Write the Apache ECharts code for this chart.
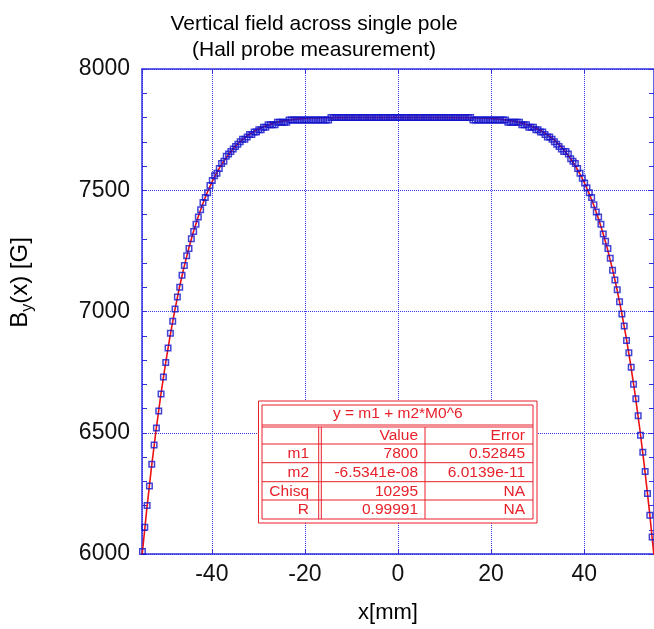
<!DOCTYPE html>
<html>
<head>
<meta charset="utf-8">
<script src="https://cdn.jsdelivr.net/npm/echarts@6/dist/echarts.min.js"></script>
<style>html,body{margin:0;padding:0;background:#fff;}#chart{width:654px;height:629px;}</style>
</head>
<body>
<div id="chart"></div>
<script>
// Hall probe measured points [x mm, B G]
const hallData = [
[-54.9,6010],[-54.4,6110],[-53.9,6200],[-53.4,6280],[-52.9,6370],[-52.4,6450],[-51.9,6520],[-51.4,6590],[-50.9,6660],[-50.4,6730],
[-49.9,6790],[-49.4,6850],[-48.9,6910],[-48.4,6960],[-47.9,7010],[-47.4,7060],[-46.9,7100],[-46.4,7150],[-45.9,7190],[-45.4,7230],
[-44.9,7260],[-44.4,7300],[-43.9,7330],[-43.4,7360],[-42.9,7390],[-42.4,7420],[-41.9,7450],[-41.4,7470],[-40.9,7490],[-40.4,7520],
[-39.9,7540],[-39.4,7560],[-38.9,7570],[-38.4,7590],[-37.9,7610],[-37.4,7620],[-36.9,7640],[-36.4,7650],[-35.9,7660],[-35.4,7670],
[-34.9,7680],[-34.4,7690],[-33.9,7700],[-33.4,7710],[-32.9,7710],[-32.4,7720],[-31.9,7730],[-31.4,7730],[-30.9,7740],[-30.4,7740],
[-29.9,7750],[-29.4,7750],[-28.9,7760],[-28.4,7760],[-27.9,7770],[-27.4,7770],[-26.9,7770],[-26.4,7770],[-25.9,7780],[-25.4,7780],
[-24.9,7780],[-24.4,7780],[-23.9,7780],[-23.4,7790],[-22.9,7790],[-22.4,7790],[-21.9,7790],[-21.4,7790],[-20.9,7790],[-20.4,7790],
[-19.9,7790],[-19.4,7790],[-18.9,7790],[-18.4,7790],[-17.9,7790],[-17.4,7790],[-16.9,7790],[-16.4,7790],[-15.9,7790],[-15.4,7790],
[-14.9,7790],[-14.4,7800],[-13.9,7800],[-13.4,7800],[-12.9,7800],[-12.4,7800],[-11.9,7800],[-11.4,7800],[-10.9,7800],[-10.4,7800],
[-9.9,7800],[-9.4,7800],[-8.9,7800],[-8.4,7800],[-7.9,7800],[-7.4,7800],[-6.9,7800],[-6.4,7800],[-5.9,7800],[-5.4,7800],
[-4.9,7800],[-4.4,7800],[-3.9,7800],[-3.4,7800],[-2.9,7800],[-2.4,7800],[-1.9,7800],[-1.4,7800],[-0.9,7800],[-0.4,7800],
[0.1,7800],[0.6,7800],[1.1,7800],[1.6,7800],[2.1,7800],[2.6,7800],[3.1,7800],[3.6,7800],[4.1,7800],[4.6,7800],
[5.1,7800],[5.6,7800],[6.1,7800],[6.6,7800],[7.1,7800],[7.6,7800],[8.1,7800],[8.6,7800],[9.1,7800],[9.6,7800],
[10.1,7800],[10.6,7800],[11.1,7800],[11.6,7800],[12.1,7800],[12.6,7800],[13.1,7800],[13.6,7800],[14.1,7800],[14.6,7800],
[15.1,7800],[15.6,7800],[16.1,7790],[16.6,7790],[17.1,7790],[17.6,7790],[18.1,7790],[18.6,7790],[19.1,7790],[19.6,7790],
[20.1,7790],[20.6,7790],[21.1,7790],[21.6,7790],[22.1,7790],[22.6,7790],[23.1,7790],[23.6,7780],[24.1,7780],[24.6,7780],
[25.1,7780],[25.6,7780],[26.1,7780],[26.6,7770],[27.1,7770],[27.6,7770],[28.1,7760],[28.6,7760],[29.1,7760],[29.6,7750],
[30.1,7750],[30.6,7740],[31.1,7740],[31.6,7730],[32.1,7720],[32.6,7720],[33.1,7710],[33.6,7700],[34.1,7690],[34.6,7680],
[35.1,7670],[35.6,7660],[36.1,7660],[36.6,7650],[37.1,7630],[37.6,7620],[38.1,7610],[38.6,7590],[39.1,7570],[39.6,7550],
[40.1,7530],[40.6,7510],[41.1,7490],[41.6,7470],[42.1,7440],[42.6,7410],[43.1,7390],[43.6,7360],[44.1,7320],[44.6,7290],
[45.1,7260],[45.6,7220],[46.1,7170],[46.6,7130],[47.1,7090],[47.6,7040],[48.1,6990],[48.6,6940],[49.1,6880],[49.6,6830],
[50.1,6770],[50.6,6700],[51.1,6640],[51.6,6570],[52.1,6490],[52.6,6420],[53.1,6340],[53.6,6250],[54.1,6160],[54.6,6070]
];

// Fitted curve y = m1 + m2*x^6, read at 1 mm steps
const fitCurve = [
[-55,5991.3],[-54,6179.9],[-53,6351.8],[-52,6508.2],[-51,6650.2],[-50,6779.0],[-49,6895.6],[-48,7000.8],[-47,7095.7],[-46,7180.9],
[-45,7257.4],[-44,7325.9],[-43,7387.0],[-42,7441.3],[-41,7489.6],[-40,7532.4],[-39,7570.1],[-38,7603.3],[-37,7632.4],[-36,7657.8],
[-35,7679.9],[-34,7699.1],[-33,7715.6],[-32,7729.8],[-31,7742.0],[-30,7752.4],[-29,7761.1],[-28,7768.5],[-27,7774.7],[-26,7779.8],
[-25,7784.0],[-24,7787.5],[-23,7790.3],[-22,7792.6],[-21,7794.4],[-20,7795.8],[-19,7796.9],[-18,7797.8],[-17,7798.4],[-16,7798.9],
[-15,7799.3],[-14,7799.5],[-10,7800],[-5,7800],[0,7800],[5,7800],[10,7800],
[14,7799.5],[15,7799.3],[16,7798.9],[17,7798.4],[18,7797.8],[19,7796.9],[20,7795.8],[21,7794.4],[22,7792.6],[23,7790.3],
[24,7787.5],[25,7784.0],[26,7779.8],[27,7774.7],[28,7768.5],[29,7761.1],[30,7752.4],[31,7742.0],[32,7729.8],[33,7715.6],
[34,7699.1],[35,7679.9],[36,7657.8],[37,7632.4],[38,7603.3],[39,7570.1],[40,7532.4],[41,7489.6],[42,7441.3],[43,7387.0],
[44,7325.9],[45,7257.4],[46,7180.9],[47,7095.7],[48,7000.8],[49,6895.6],[50,6779.0],[51,6650.2],[52,6508.2],[53,6351.8],
[54,6179.9],[55,5991.3]
];

const titleLines = ['Vertical field across single pole', '(Hall probe measurement)'];
const fitFormula = 'y = m1 + m2*M0^6';
const fitHeader = ['', 'Value', 'Error'];
const fitParams = ['m1', 'm2', 'Chisq', 'R'];
const fitValues = ['7800', '-6.5341e-08', '10295', '0.99991'];
const fitErrors = ['0.52845', '6.0139e-11', 'NA', 'NA'];

const FONT = '"Liberation Sans", Arial, Helvetica, sans-serif';
const AX = '#3030e0';
const RED = '#e8202a';

// table geometry (layout only)
const T = {x0: 258.5, x1: 537, y0: 401, y1: 523, ix0: 262, ix1: 533, iy0: 405, iy1: 519,
  head: 425, c1: 320, c2: 425, rows: [427, 444, 462.7, 481.7, 500, 519], colRight: [309, 418, 525]};

const g = [];
g.push({type:'rect', z:100, shape:{x:T.x0, y:T.y0, width:T.x1-T.x0, height:T.y1-T.y0}, style:{fill:'#fff', stroke:RED, lineWidth:1}});
g.push({type:'rect', z:101, shape:{x:T.ix0, y:T.iy0, width:T.ix1-T.ix0, height:T.iy1-T.iy0}, style:{fill:'none', stroke:RED, lineWidth:1}});
g.push({type:'line', z:101, shape:{x1:T.ix0, y1:T.head, x2:T.ix1, y2:T.head}, style:{stroke:RED, lineWidth:1}});
g.push({type:'line', z:101, shape:{x1:T.ix0, y1:T.rows[0], x2:T.ix1, y2:T.rows[0]}, style:{stroke:RED, lineWidth:1}});
for (let i = 1; i < T.rows.length - 1; i++) {
  g.push({type:'line', z:101, shape:{x1:T.ix0, y1:T.rows[i], x2:T.ix1, y2:T.rows[i]}, style:{stroke:RED, lineWidth:1}});
}
g.push({type:'line', z:101, shape:{x1:T.c1-1.3, y1:T.rows[0], x2:T.c1-1.3, y2:T.iy1}, style:{stroke:RED, lineWidth:1}});
g.push({type:'line', z:101, shape:{x1:T.c1+1.3, y1:T.rows[0], x2:T.c1+1.3, y2:T.iy1}, style:{stroke:RED, lineWidth:1}});
g.push({type:'line', z:101, shape:{x1:T.c2, y1:T.rows[0], x2:T.c2, y2:T.iy1}, style:{stroke:RED, lineWidth:1}});
function cellText(t, x, y, align) {
  return {type:'text', z:102, x:x, y:y, style:{text:t, fill:RED, font:'15.5px ' + FONT, align:align, verticalAlign:'middle'}};
}
g.push(cellText(fitFormula, (T.x0 + T.x1) / 2, 414, 'center'));
g.push(cellText(fitHeader[1], T.colRight[1], (T.rows[0] + T.rows[1]) / 2 + 0.5, 'right'));
g.push(cellText(fitHeader[2], T.colRight[2], (T.rows[0] + T.rows[1]) / 2 + 0.5, 'right'));
for (let i = 0; i < fitParams.length; i++) {
  const ym = (T.rows[i + 1] + T.rows[i + 2]) / 2 + 0.5;
  g.push(cellText(fitParams[i], T.colRight[0], ym, 'right'));
  g.push(cellText(fitValues[i], T.colRight[1], ym, 'right'));
  g.push(cellText(fitErrors[i], T.colRight[2], ym, 'right'));
}

const chart = echarts.init(document.getElementById('chart'), null, {renderer: 'canvas'});
function axisCommon() {
  return {
    axisLine: {show: true, onZero: false, lineStyle: {color: AX, width: 1.5}},
    axisTick: {show: true, inside: true, length: 5, lineStyle: {color: AX, width: 1}}
  };
}
const plain = v => String(v);
chart.setOption({
  animation: false,
  backgroundColor: '#fff',
  title: {
    text: titleLines.join('\n'), left: 309, top: 6, textAlign: 'center',
    textStyle: {fontFamily: FONT, fontSize: 21, fontWeight: 'normal', color: '#000', lineHeight: 26}
  },
  grid: {left: 142, top: 69, width: 515, height: 490.5},
  xAxis: [
    Object.assign({
      type: 'value', min: -55, max: 55, position: 'bottom',
      name: 'x[mm]', nameLocation: 'middle', nameGap: 48,
      nameTextStyle: {fontFamily: FONT, fontSize: 22, color: '#000', padding: [0, 20, 0, 0]},
      axisLabel: {show: true, showMinLabel: false, showMaxLabel: false, fontFamily: FONT, fontSize: 23, color: '#111', margin: 9, formatter: plain},
      splitLine: {show: true, lineStyle: {color: '#3838e8', type: 'dotted', width: 1}}
    }, axisCommon()),
    Object.assign({
      type: 'value', min: -55, max: 55, position: 'top',
      axisLabel: {show: false}, splitLine: {show: false}
    }, axisCommon())
  ],
  yAxis: [
    Object.assign({
      type: 'value', min: 6000, max: 8000, interval: 500, position: 'left',
      name: '{b|B}{s|y}{b|(x) [G]}', nameLocation: 'middle', nameGap: 106,
      nameTextStyle: {
        fontFamily: FONT, color: '#000', padding: [0, 0, 0, 58],
        rich: {
          b: {fontFamily: FONT, fontSize: 24, color: '#000', lineHeight: 28, verticalAlign: 'top'},
          s: {fontFamily: FONT, fontSize: 16, color: '#000', lineHeight: 16, verticalAlign: 'bottom'}
        }
      },
      axisLabel: {show: true, fontFamily: FONT, fontSize: 23, color: '#111', margin: 12, formatter: plain},
      minorTick: {show: true, splitNumber: 5, length: 5, lineStyle: {color: AX, width: 1}},
      splitLine: {show: true, lineStyle: {color: '#3838e8', type: 'dotted', width: 1}}
    }, axisCommon()),
    Object.assign({
      type: 'value', min: 6000, max: 8000, interval: 500, position: 'right',
      axisLabel: {show: false}, splitLine: {show: false},
      minorTick: {show: true, splitNumber: 5, length: 5, lineStyle: {color: AX, width: 1}}
    }, axisCommon())
  ],
  series: [
    {
      name: 'fit', type: 'line', data: fitCurve, showSymbol: false, symbol: 'none',
      lineStyle: {color: '#ee1111', width: 1.6}, z: 2, clip: true, silent: true
    },
    {
      name: 'Hall probe', type: 'scatter', data: hallData, symbol: 'rect', symbolSize: 5.5,
      itemStyle: {color: 'rgba(255,255,255,0)', borderColor: '#1414cc', borderWidth: 1.5},
      z: 3, clip: true, silent: true
    }
  ],
  graphic: g
});
</script>
</body>
</html>
